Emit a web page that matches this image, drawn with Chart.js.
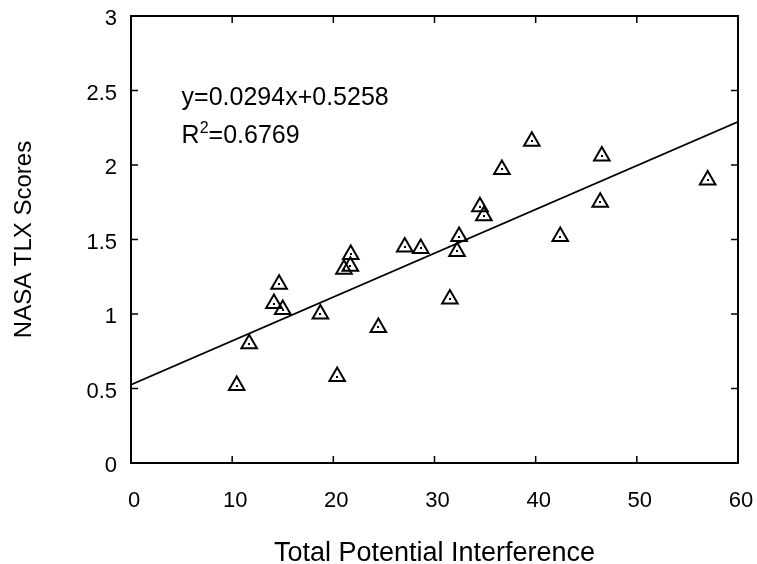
<!DOCTYPE html>
<html>
<head>
<meta charset="utf-8">
<script src="https://cdn.jsdelivr.net/npm/chart.js@4"></script>
<style>
  html, body { margin: 0; padding: 0; background: #fff; }
  #wrap { width: 757px; height: 564px; }
</style>
</head>
<body>
<div id="wrap"><canvas id="c" width="757" height="564"></canvas></div>
<script>
// ---- data ----
const interference = [10.45, 11.68, 14.13, 14.64, 15.0, 18.72, 20.38, 21.05, 21.68, 21.72, 24.45, 27.06,
                      28.64, 31.52, 32.23, 32.43, 34.49, 34.88, 36.66, 39.62, 42.43, 46.38, 46.54, 57.0];
const tlxScores    = [0.52, 0.80, 1.07, 1.20, 1.03, 1.00, 0.58, 1.30, 1.32, 1.40, 0.91, 1.45,
                      1.44, 1.10, 1.42, 1.52, 1.72, 1.66, 1.97, 2.16, 1.52, 1.75, 2.06, 1.90];
const fitSlope = 0.0294;
const fitIntercept = 0.5258;
const rSquared = '0.6769';
const xTicks = [0, 10, 20, 30, 40, 50, 60];
const yTicks = [0, 0.5, 1, 1.5, 2, 2.5, 3];
const xTitle = 'Total Potential Interference';
const yTitle = 'NASA TLX Scores';

const points = interference.map((x, i) => ({ x: x, y: tlxScores[i] }));
const fitLine = [xTicks[0], xTicks[xTicks.length - 1]].map(x => ({ x: x, y: fitSlope * x + fitIntercept }));

const FONT = "'Liberation Sans', Arial, sans-serif";

const framePlugin = {
  id: 'frame',
  afterDatasetsDraw(chart) {
    const { ctx, chartArea: a, scales } = chart;
    ctx.save();
    // centre dots of the triangle markers
    ctx.fillStyle = '#000';
    chart.getDatasetMeta(1).data.forEach(el => {
      ctx.fillRect(Math.round(el.x) - 1, Math.round(el.y) - 1, 2, 2);
    });
    // frame
    ctx.strokeStyle = '#000';
    ctx.lineWidth = 2;
    ctx.strokeRect(a.left, a.top, a.right - a.left, a.bottom - a.top);
    // inward ticks on all four sides
    const tl = 7;
    ctx.lineWidth = 1.5;
    ctx.beginPath();
    xTicks.forEach(v => {
      const px = scales.x.getPixelForValue(v);
      ctx.moveTo(px, a.bottom); ctx.lineTo(px, a.bottom - tl);
      ctx.moveTo(px, a.top); ctx.lineTo(px, a.top + tl);
    });
    yTicks.forEach(v => {
      const py = scales.y.getPixelForValue(v);
      ctx.moveTo(a.left, py); ctx.lineTo(a.left + tl, py);
      ctx.moveTo(a.right, py); ctx.lineTo(a.right - tl, py);
    });
    ctx.stroke();
    // regression annotation
    ctx.fillStyle = '#000';
    ctx.textBaseline = 'alphabetic';
    ctx.textAlign = 'left';
    ctx.font = '25px ' + FONT;
    const tx = scales.x.getPixelForValue(5.0);
    ctx.fillText('y=' + fitSlope + 'x+' + fitIntercept, tx, scales.y.getPixelForValue(2.4));
    const by = scales.y.getPixelForValue(2.145);
    ctx.fillText('R', tx, by);
    const rw = ctx.measureText('R').width;
    ctx.font = '16px ' + FONT;
    ctx.fillText('2', tx + rw, by - 10);
    const sw = ctx.measureText('2').width;
    ctx.font = '25px ' + FONT;
    ctx.fillText('=' + rSquared, tx + rw + sw, by);
    ctx.restore();
  }
};

new Chart(document.getElementById('c'), {
  type: 'scatter',
  data: {
    datasets: [
      {
        type: 'line',
        data: fitLine,
        borderColor: '#000',
        borderWidth: 1.8,
        pointRadius: 0,
        fill: false,
        tension: 0
      },
      {
        type: 'scatter',
        data: points,
        pointStyle: 'triangle',
        pointRadius: 9,
        pointBorderWidth: 2,
        pointBorderColor: '#000',
        pointBackgroundColor: 'rgba(255,255,255,0)'
      }
    ]
  },
  options: {
    responsive: false,
    animation: false,
    devicePixelRatio: 1,
    layout: { padding: { top: 16, right: 19, left: 0, bottom: 0 } },
    plugins: { legend: { display: false }, tooltip: { enabled: false } },
    scales: {
      x: {
        type: 'linear',
        min: 0, max: 60,
        afterBuildTicks: s => { s.ticks = xTicks.map(v => ({ value: v })); },
        afterFit: s => { s.height = 101; s.paddingLeft = 0; s.paddingRight = 0; },
        grid: { display: false },
        border: { display: false },
        ticks: { color: '#000', font: { family: FONT, size: 22 }, padding: 17, maxRotation: 0,
                 labelOffset: 3, callback: v => String(v) },
        title: { display: true, text: xTitle, color: '#000',
                 font: { family: FONT, size: 27, lineHeight: 0.78 }, padding: { top: 0, bottom: 0 } }
      },
      y: {
        type: 'linear',
        min: 0, max: 3,
        afterBuildTicks: s => { s.ticks = yTicks.map(v => ({ value: v })); },
        afterFit: s => { s.width = 131; s.paddingTop = 0; s.paddingBottom = 0; },
        grid: { display: false },
        border: { display: false },
        ticks: { color: '#000', font: { family: FONT, size: 22 }, padding: 6, labelOffset: 3,
                 callback: v => String(v) },
        title: { display: true, text: yTitle, color: '#000',
                 font: { family: FONT, size: 24, lineHeight: 1.2 }, padding: { top: 10, bottom: 0 } }
      }
    }
  },
  plugins: [framePlugin]
});
</script>
</body>
</html>
